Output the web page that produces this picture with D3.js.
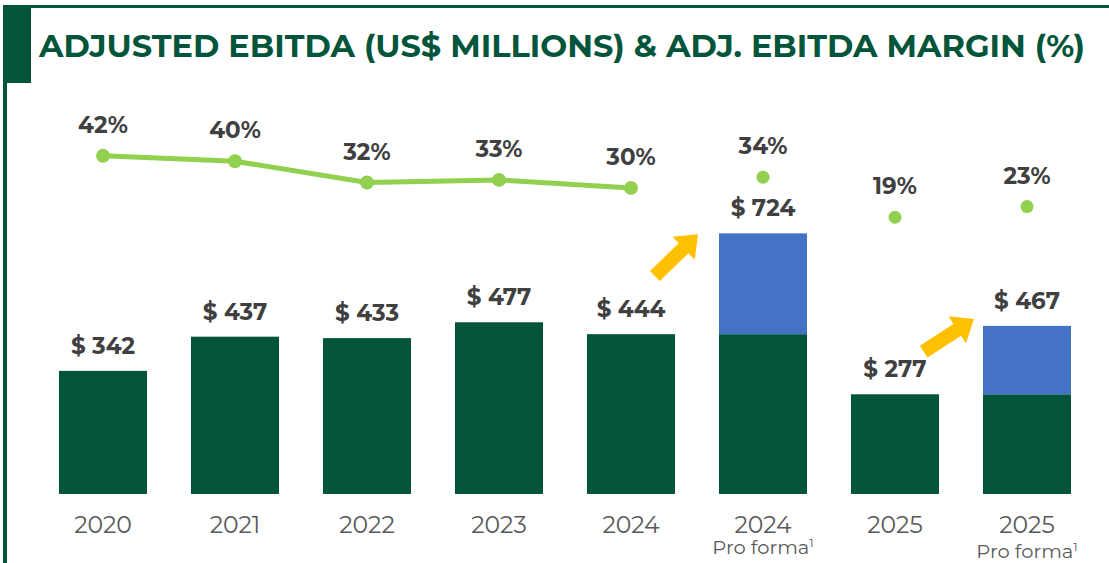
<html>
<head>
<meta charset="utf-8">
<style>
body { margin: 0; background: #fff; }
text { font-family: "Montserrat", "Open Sans", "DejaVu Sans", sans-serif; }
</style>
</head>
<body>
<div id="chart"></div>
<script src="https://d3js.org/d3.v7.min.js"></script>
<script>

var darkGreen = "#02553a"
var lightGreen = "#92d050"
var blue = "#4472c4"
var yellow = "#ffc000"
var labelGrey = "#404040"
var axisGrey = "#595959"

// data
var years = ["2020", "2021", "2022", "2023", "2024", "2024", "2025", "2025"]
var subLabels = ["", "", "", "", "", "Pro forma", "", "Pro forma"]
var baseEbitda = [342, 437, 433, 477, 444, 444, 277, 277]
var proFormaAdd = [0, 0, 0, 0, 0, 280, 0, 190]
var totalLabels = [342, 437, 433, 477, 444, 724, 277, 467]
var margins = [42, 40, 32, 33, 30, 34, 19, 23]
var connectedCount = 5
var arrowBars = [5, 7]

var width = 1109, height = 563;

var svg = d3.select("#chart")
  .append("svg")
  .attr("width", width)
  .attr("height", height)

// frame
svg.append("rect").attr("x", 3).attr("y", 5).attr("width", width - 3).attr("height", 3).attr("fill", darkGreen)
svg.append("rect").attr("x", 3).attr("y", 5).attr("width", 4).attr("height", height - 5).attr("fill", darkGreen)
svg.append("rect").attr("x", 3).attr("y", 5).attr("width", 28).attr("height", 78).attr("fill", darkGreen)

svg.append("text")
  .attr("x", 39)
  .attr("y", 57)
  .attr("font-size", 30)
  .attr("font-weight", "bold")
  .attr("fill", darkGreen)
  .attr("textLength", 1046)
  .attr("lengthAdjust", "spacingAndGlyphs")
  .text("ADJUSTED EBITDA (US$ MILLIONS) & ADJ. EBITDA MARGIN (%)")

var idx = d3.range(years.length)

var x = d3.scaleBand()
  .domain(idx)
  .range([37, 1093])
  .paddingInner(1/3)
  .paddingOuter(1/6)

var y = d3.scaleLinear()
  .domain([0, 1000])
  .range([494, 134])

var ym = d3.scaleLinear()
  .domain([0, 50])
  .range([268, 134.5])

// bars
svg.selectAll(".base")
  .data(idx)
  .enter().append("rect")
  .attr("class", "base")
  .attr("x", i => x(i))
  .attr("width", x.bandwidth())
  .attr("y", i => y(baseEbitda[i]))
  .attr("height", i => y(0) - y(baseEbitda[i]))
  .attr("fill", darkGreen)

svg.selectAll(".add")
  .data(idx.filter(i => proFormaAdd[i] > 0))
  .enter().append("rect")
  .attr("class", "add")
  .attr("x", i => x(i))
  .attr("width", x.bandwidth())
  .attr("y", i => y(baseEbitda[i] + proFormaAdd[i]))
  .attr("height", i => y(baseEbitda[i]) - y(baseEbitda[i] + proFormaAdd[i]))
  .attr("fill", blue)

svg.selectAll(".valLabel")
  .data(idx)
  .enter().append("text")
  .attr("class", "valLabel")
  .attr("x", i => x(i) + x.bandwidth()/2)
  .attr("y", i => y(baseEbitda[i] + proFormaAdd[i]) - 17)
  .attr("text-anchor", "middle")
  .attr("font-size", 23)
  .attr("font-weight", "bold")
  .attr("fill", labelGrey)
  .text(i => "$ " + totalLabels[i])

// x labels
svg.selectAll(".yearLabel")
  .data(idx)
  .enter().append("text")
  .attr("class", "yearLabel")
  .attr("x", i => x(i) + x.bandwidth()/2)
  .attr("y", 533)
  .attr("text-anchor", "middle")
  .attr("font-size", 23.5)
  .attr("fill", axisGrey)
  .text(i => years[i])

var sub = svg.selectAll(".subLabel")
  .data(idx.filter(i => subLabels[i] != ""))
  .enter().append("text")
  .attr("class", "subLabel")
  .attr("x", i => x(i) + x.bandwidth()/2)
  .attr("y", i => i == 7 ? 558 : 554)
  .attr("text-anchor", "middle")
  .attr("font-size", 19.5)
  .attr("fill", axisGrey)
sub.append("tspan").text(i => subLabels[i])
sub.append("tspan").attr("font-size", 12).attr("dy", -7).text("1")

// margin line
var line = d3.line()
  .x(i => x(i) + x.bandwidth()/2)
  .y(i => ym(margins[i]))

svg.append("path")
  .datum(idx.slice(0, connectedCount))
  .attr("d", line)
  .attr("fill", "none")
  .attr("stroke", lightGreen)
  .attr("stroke-width", 5)

svg.selectAll(".dot")
  .data(idx)
  .enter().append("circle")
  .attr("class", "dot")
  .attr("cx", i => x(i) + x.bandwidth()/2)
  .attr("cy", i => ym(margins[i]))
  .attr("r", i => i < connectedCount ? 7 : 6.5)
  .attr("fill", lightGreen)

svg.selectAll(".pctLabel")
  .data(idx)
  .enter().append("text")
  .attr("class", "pctLabel")
  .attr("x", i => x(i) + x.bandwidth()/2)
  .attr("y", i => ym(margins[i]) - 23)
  .attr("text-anchor", "middle")
  .attr("font-size", 23)
  .attr("font-weight", "bold")
  .attr("fill", labelGrey)
  .text(i => margins[i] + "%")

// yellow arrows pointing at the pro forma bars
var arrowShape = "M0,-7 L40,-7 L40,-16 L60,0 L40,16 L40,7 L0,7 Z"
svg.selectAll(".arrow")
  .data(arrowBars)
  .enter().append("path")
  .attr("class", "arrow")
  .attr("d", arrowShape)
  .attr("fill", yellow)
  .attr("transform", function(i){
      var tipX = i == 5 ? x(i) - 21 : x(i) - 9
      var tipY = i == 5 ? y(baseEbitda[i] + proFormaAdd[i]) + 1 : y(baseEbitda[i] + proFormaAdd[i]) - 7
      var ang = i == 5 ? -44 : -33
      var rad = ang * Math.PI / 180
      var sx = tipX - 60 * Math.cos(rad), sy = tipY - 60 * Math.sin(rad)
      return "translate(" + sx + "," + sy + ") rotate(" + ang + ")"
  })

</script>
</body>
</html>
